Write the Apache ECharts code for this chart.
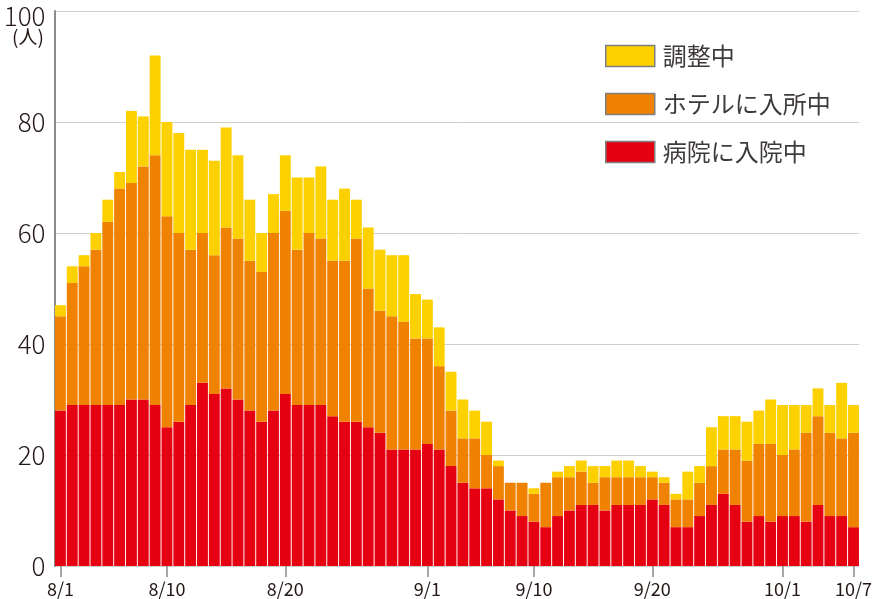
<!DOCTYPE html>
<html>
<head>
<meta charset="utf-8">
<script src="https://cdn.jsdelivr.net/npm/echarts@6/dist/echarts.min.js"></script>
<style>
html,body{margin:0;padding:0;background:#fff;}
#chart{width:875px;height:599px;}
</style>
</head>
<body>
<div id="chart"></div>
<script>
const categories = [
  '8/1','8/2','8/3','8/4','8/5','8/6','8/7','8/8','8/9','8/10',
  '8/11','8/12','8/13','8/14','8/15','8/16','8/17','8/18','8/19','8/20',
  '8/21','8/22','8/23','8/24','8/25','8/26','8/27','8/28','8/29','8/30','8/31',
  '9/1','9/2','9/3','9/4','9/5','9/6','9/7','9/8','9/9','9/10',
  '9/11','9/12','9/13','9/14','9/15','9/16','9/17','9/18','9/19','9/20',
  '9/21','9/22','9/23','9/24','9/25','9/26','9/27','9/28','9/29','9/30',
  '10/1','10/2','10/3','10/4','10/5','10/6','10/7'
];
const shownLabels = ['8/1','8/10','8/20','9/1','9/10','9/20','10/1','10/7'];
const yTicks = [0, 20, 40, 60, 80, 100];

const hospital = [
  28,29,29,29,29,29,30,30,29,25,
  26,29,33,31,32,30,28,26,28,31,
  29,29,29,27,26,26,25,24,21,21,21,
  22,21,18,15,14,14,12,10,9,8,
  7,9,10,11,11,10,11,11,11,12,
  11,7,7,9,11,13,11,8,9,8,
  9,9,8,11,9,9,7
];
const hotel = [
  17,22,25,28,33,39,39,42,45,38,
  34,28,27,25,29,29,27,27,32,33,
  28,31,30,28,29,33,25,22,24,23,20,
  19,15,10,8,9,6,6,5,6,5,
  8,7,6,6,4,6,5,5,5,4,
  4,5,5,6,7,8,10,11,13,14,
  11,12,16,16,15,14,17
];
const adjusting = [
  2,3,2,3,4,3,13,9,18,17,
  18,18,15,17,18,15,11,7,7,10,
  13,10,13,11,13,7,11,11,11,12,8,
  7,7,7,7,5,6,1,0,0,1,
  0,1,2,2,3,2,3,3,2,1,
  1,1,5,3,7,6,6,7,6,8,
  9,8,5,5,5,10,5
];

const FONT = '"Noto Sans CJK JP", "Noto Sans", sans-serif';
const chart = echarts.init(document.getElementById('chart'));
const showIdx = (i) => shownLabels.indexOf(categories[i]) >= 0;

chart.setOption({
  animation: false,
  textStyle: { fontFamily: FONT },
  grid: { left: 54.5, right: 12.5, top: 11, bottom: 33, containLabel: false },
  legend: {
    orient: 'vertical',
    left: 605,
    top: 44,
    padding: 0,
    itemWidth: 49,
    itemHeight: 21,
    itemGap: 24,
    icon: 'rect',
    data: ['調整中', 'ホテルに入所中', '病院に入院中'],
    itemStyle: { borderColor: '#7f7f7f', borderWidth: 1.5 },
    textStyle: { fontSize: 24, color: '#3e3a39', fontFamily: FONT, fontWeight: 400, padding: [0, 0, 0, 3] }
  },
  xAxis: {
    type: 'category',
    data: categories,
    axisLine: { show: false },
    axisTick: {
      show: true,
      alignWithLabel: true,
      interval: (i) => showIdx(i),
      length: 11,
      lineStyle: { color: '#8a8a8a', width: 1.5 }
    },
    axisLabel: {
      interval: (i) => showIdx(i),
      fontSize: 18,
      color: '#231815',
      margin: 14,
      fontFamily: FONT,
      fontWeight: 400
    }
  },
  yAxis: {
    type: 'value',
    min: 0,
    max: 100,
    interval: 20,
    axisLine: { show: true, lineStyle: { color: '#8c8c8c', width: 2 } },
    axisTick: { show: false },
    splitLine: { lineStyle: { color: '#cfcfcf', width: 1 } },
    axisLabel: {
      fontSize: 26,
      color: '#231815',
      margin: 9,
      fontFamily: FONT,
      fontWeight: 300,
      formatter: (v) => yTicks.indexOf(v) >= 0 ? (v === 100 ? '{t|100}' : String(v)) : '',
      rich: { t: { fontSize: 26, color: '#231815', padding: [10, 0, 0, 0], fontFamily: FONT, fontWeight: 300 } }
    }
  },
  graphic: [{
    type: 'text',
    left: 12,
    top: 27,
    style: { text: '(人)', fontSize: 19, fill: '#231815', fontFamily: FONT, fontWeight: 400 }
  }],
  series: [
    { name: '病院に入院中', type: 'bar', stack: 'total', data: hospital, barCategoryGap: '8%', itemStyle: { color: '#E50012' } },
    { name: 'ホテルに入所中', type: 'bar', stack: 'total', data: hotel, barCategoryGap: '8%', itemStyle: { color: '#EF8200' } },
    { name: '調整中', type: 'bar', stack: 'total', data: adjusting, barCategoryGap: '8%', itemStyle: { color: '#FDD000' } }
  ]
});
</script>
</body>
</html>
